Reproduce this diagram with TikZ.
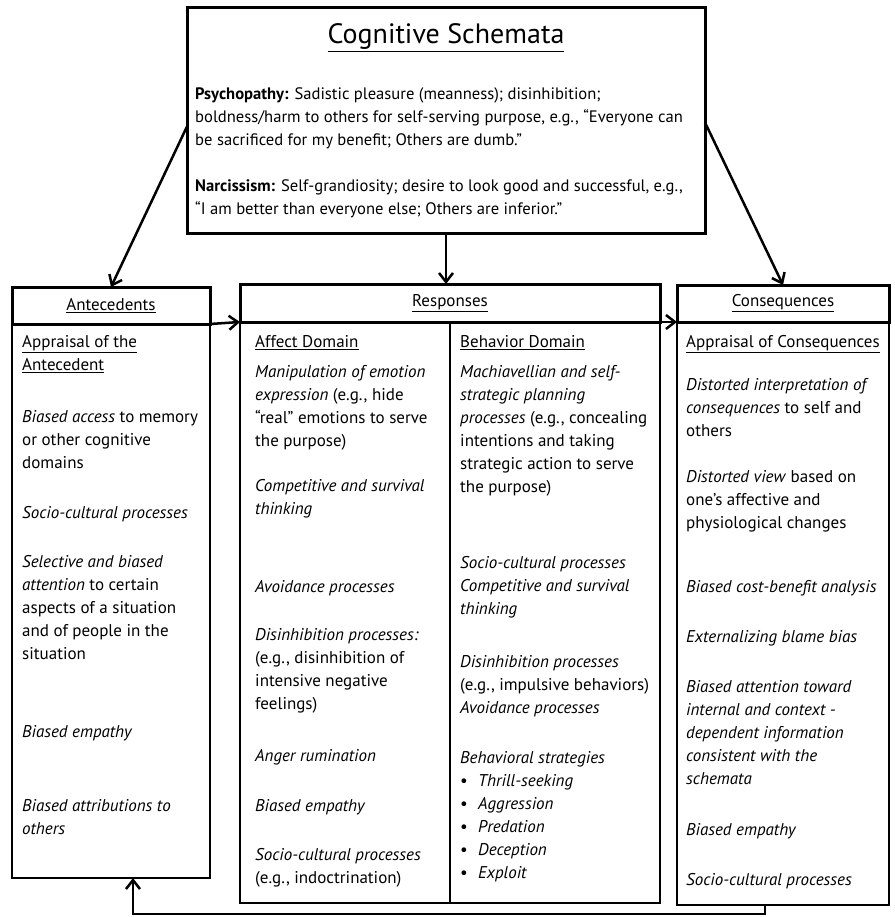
\documentclass[tikz,border=0pt]{standalone}
\usepackage{fontspec}
\setmainfont{PT Sans}
\usetikzlibrary{arrows.meta}

\begin{document}
\begin{tikzpicture}[x=1pt,y=-1pt,>={Straight Barb[length=9pt,width=14pt]},
  hbox/.style={draw,line width=3pt,inner sep=0pt,outer sep=0pt,font=\fontsize{17}{23}\selectfont},
  bbox/.style={draw,line width=1.3pt,inner sep=0pt,outer sep=0pt},
  txt/.style={anchor=north west,align=left,inner sep=0pt,font=\fontsize{17}{23}\selectfont},
  ar/.style={->,line width=2.5pt}]
\useasboundingbox (0,0) rectangle (894,917);
% boxes
\node[hbox,minimum width=518pt,minimum height=225pt] (schema) at (446,120.5) {};
\node[bbox,minimum width=198pt,minimum height=554pt] (antBody) at (111,601) {};
\node[bbox,minimum width=420pt,minimum height=581pt] (respBody) at (450,612.5) {};
\node[bbox,minimum width=212pt,minimum height=583pt] (consBody) at (783,613.5) {};
\node[hbox,minimum width=198pt,minimum height=37pt] (antHead) at (111,305.5) {\underline{Antecedents}};
\node[hbox,minimum width=420pt,minimum height=38pt] (respHead) at (450,303) {\underline{Responses}};
\node[hbox,minimum width=212pt,minimum height=37pt] (consHead) at (783,303.5) {\underline{Consequences}};
\draw[line width=1.3pt] (respHead.south) -- (respBody.south);
% schema text
\node[anchor=base,inner sep=0pt,font=\fontsize{28}{32}\selectfont] (title) at (446,44) {\underline{Cognitive Schemata}};
\node[txt,font=\fontsize{16.6}{23}\selectfont] (traits) at (195,87) {\textbf{Psychopathy:} Sadistic pleasure (meanness); disinhibition;\\
boldness/harm to others for self-serving purpose, e.g., “Everyone can\\
be sacrificed for my benefit; Others are dumb.”\\[23pt]
\textbf{Narcissism:} Self-grandiosity; desire to look good and successful, e.g.,\\
“I am better than everyone else; Others are inferior.”};
% columns
\node[txt] (antText) at (22,335.5) {\underline{Appraisal of the}\\
\underline{Antecedent}\\[29pt]
\textit{Biased access} to memory\\
or other cognitive\\
domains\\[27pt]
\textit{Socio-cultural processes}\\[26pt]
\textit{Selective and biased}\\
\textit{attention} to certain\\
aspects of a situation\\
and of people in the\\
situation\\[55pt]
\textit{Biased empathy}\\[51pt]
\textit{Biased attributions to}\\
\textit{others}};
\node[txt] (affText) at (255,335.5) {\underline{Affect Domain}\\[7pt]
\textit{Manipulation of emotion}\\
\textit{expression} (e.g., hide\\
“real” emotions to serve\\
the purpose)\\[22pt]
\textit{Competitive and survival}\\
\textit{thinking}\\[55pt]
\textit{Avoidance processes}\\[25pt]
\textit{Disinhibition processes:}\\
(e.g., disinhibition of\\
intensive negative\\
feelings)\\[29pt]
\textit{Anger rumination}\\[27pt]
\textit{Biased empathy}\\[26pt]
\textit{Socio-cultural processes}\\
(e.g., indoctrination)};
\node[txt] (behText) at (460,335.5) {\underline{Behavior Domain}\\[7pt]
\textit{Machiavellian and self-}\\
\textit{strategic planning}\\
\textit{processes} (e.g., concealing\\
intentions and taking\\
strategic action to serve\\
the purpose)\\[53pt]
\textit{Socio-cultural processes}\\
\textit{Competitive and survival}\\
\textit{thinking}\\[30pt]
\textit{Disinhibition processes}\\
(e.g., impulsive behaviors)\\
\textit{Avoidance processes}\\[27pt]
\textit{Behavioral strategies}\\
\makebox[18pt][l]{\textbullet}\textit{Thrill-seeking}\\
\makebox[18pt][l]{\textbullet}\textit{Aggression}\\
\makebox[18pt][l]{\textbullet}\textit{Predation}\\
\makebox[18pt][l]{\textbullet}\textit{Deception}\\
\makebox[18pt][l]{\textbullet}\textit{Exploit}};
\node[txt] (consText) at (686,335.5) {\underline{Appraisal of Consequences}\\[20pt]
\textit{Distorted interpretation of}\\
\textit{consequences} to self and\\
others\\[23pt]
\textit{Distorted view} based on\\
one’s affective and\\
physiological changes\\[41pt]
\textit{Biased cost-benefit analysis}\\[27pt]
\textit{Externalizing blame bias}\\[27pt]
\textit{Biased attention toward}\\
\textit{internal and context -}\\
\textit{dependent information}\\
\textit{consistent with the}\\
\textit{schemata}\\[28pt]
\textit{Biased empathy}\\[27pt]
\textit{Socio-cultural processes}};
% arrows
\coordinate (fbR) at (765,914);
\coordinate (fbL) at (133,914);
\draw[ar] ([yshift=-6pt]schema.west) -- (antHead.north);
\draw[ar] (schema.south) -- (schema.south |- respHead.north);
\draw[ar] ([yshift=-2pt]schema.east) -- (consHead.north);
\draw[ar] (antHead.south east) -- (respHead.south west);
\draw[ar] (respHead.south east) -- (consHead.south west);
\draw[ar] (consBody.south -| fbR) -- (fbR) -- (fbL) -- (antBody.south -| fbL);
\end{tikzpicture}
\end{document}
